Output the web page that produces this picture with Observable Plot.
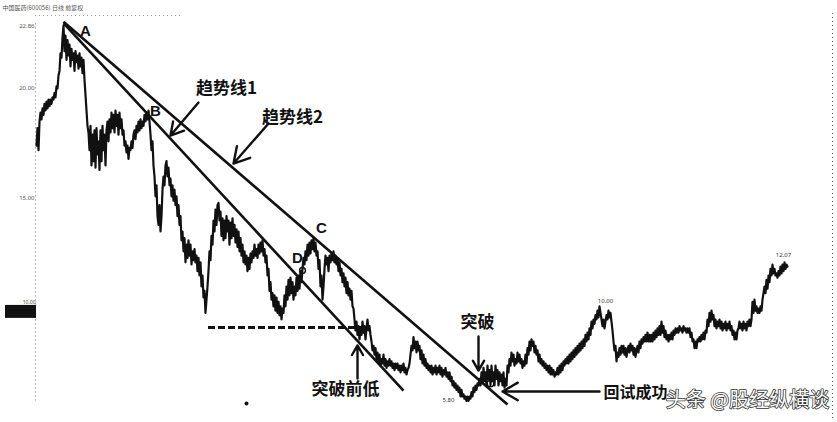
<!DOCTYPE html>
<html><head><meta charset="utf-8">
<script src="https://cdn.jsdelivr.net/npm/d3@7"></script>
<script src="https://cdn.jsdelivr.net/npm/@observablehq/plot@0.6"></script>
<style>body{margin:0;background:#fff;} #chart{width:837px;height:422px;overflow:hidden;}</style>
</head><body><div id="chart"></div>
<script>
// Daily closes, one per trading day
const close = [
17.4,18.2,17.2,18.5,18.9,18.6,19.1,18.8,19.3,19.0,19.4,19.1,19.5,19.2,19.5,19.3,19.6,19.5,19.8,19.6,20.1,20.0,20.6,20.8,21.6,21.4,22.3,22.86,
21.7,22.4,21.3,22.2,21.5,22.0,21.0,21.8,21.3,21.6,20.8,21.7,21.2,21.5,20.9,21.6,21.0,21.4,20.7,21.3,20.4,19.7,19.0,18.3,18.0,
17.2,18.3,16.5,17.9,16.7,18.1,16.4,18.2,17.0,17.6,16.3,18.1,16.7,18.3,17.2,17.9,16.5,18.1,
18.5,17.6,18.6,18.0,18.9,18.2,18.8,18.0,19.0,18.3,18.8,17.9,18.9,18.2,18.6,17.9,
18.1,17.4,17.6,17.1,17.4,16.8,17.3,17.2,17.6,17.3,
17.9,18.1,17.7,18.3,18.0,18.5,18.1,18.6,18.2,18.5,18.3,18.8,18.5,18.9,18.6,19.0,
18.5,17.9,17.2,17.6,16.5,16.0,15.1,15.6,14.2,13.8,14.7,13.5,
14.2,15.4,16.0,15.6,16.5,16.7,16.0,16.4,15.6,15.9,
15.1,15.6,14.9,15.4,14.7,15.1,14.2,14.7,13.8,14.2,
13.1,13.5,12.6,13.2,12.1,12.9,12.3,13.1,12.4,12.9,
12.0,12.6,12.2,12.7,12.1,12.4,11.7,12.3,11.5,12.1,
11.0,11.5,10.5,10.8,9.8,10.4,11.0,
11.7,12.6,12.2,13.3,12.9,14.0,13.5,14.5,13.8,14.7,14.8,14.0,
14.4,13.3,14.1,13.1,14.0,13.2,14.2,13.5,14.0,12.9,13.9,13.2,14.1,13.3,13.8,13.0,13.6,12.8,13.5,12.6,
13.2,12.4,12.9,12.1,12.6,12.0,12.4,11.7,12.3,11.8,12.5,12.1,12.6,
12.3,12.9,12.4,12.7,12.3,12.9,12.5,13.0,12.6,13.1,12.4,12.7,
12.1,12.4,11.5,11.8,10.8,11.2,10.4,10.7,10.1,10.6,9.9,10.5,9.8,10.3,9.7,10.1,9.5,10.0,9.8,
10.6,10.1,11.0,10.4,11.3,10.6,11.4,10.7,11.2,10.4,11.0,10.6,11.4,10.8,11.5,10.9,11.7,11.2,11.8,
12.3,12.0,12.6,12.2,12.9,12.4,13.0,12.5,13.1,12.7,13.2,12.6,13.0,12.4,
12.6,11.8,12.2,11.0,11.5,10.4,11.0,
11.8,12.4,12.0,12.3,11.7,12.4,12.1,12.5,12.2,12.6,12.1,12.4,12.0,
12.3,11.7,12.1,11.5,11.8,11.2,11.6,11.0,11.4,10.7,11.2,10.6,10.9,10.4,10.8,10.1,10.0,
9.5,9.0,9.4,8.8,9.2,8.6,9.1,8.8,9.4,8.9,9.2,8.6,9.1,9.5,9.0,9.2,8.8,8.5,8.1,8.3,7.9,8.2,7.7,
8.0,7.5,7.9,7.4,7.7,7.5,7.9,7.4,7.7,7.3,7.6,7.4,7.7,7.4,7.6,7.3,7.5,7.2,7.5,7.3,7.5,7.2,7.4,7.1,7.4,7.2,7.5,7.1,7.3,7.0,7.2,
7.3,7.5,7.9,8.3,8.1,8.7,8.2,8.5,8.0,8.5,
8.1,8.3,7.7,8.1,7.5,7.9,7.4,7.7,7.3,7.5,
7.2,7.4,7.1,7.4,7.0,7.3,7.1,7.4,7.0,7.3,
7.1,7.4,7.0,7.3,6.9,7.2,7.0,7.3,6.9,7.1,
6.8,7.1,6.7,6.9,6.5,6.7,6.4,6.6,6.3,6.5,
6.2,6.4,6.0,6.3,6.0,6.1,5.9,6.0,5.8,6.0,
5.8,6.0,5.9,6.2,6.0,6.4,6.2,6.5,6.3,6.6,
6.5,6.8,6.5,7.1,6.6,7.3,6.7,7.1,6.5,7.4,
6.8,7.2,6.5,7.4,6.7,7.1,6.5,7.4,6.8,7.2,
6.5,7.1,6.7,
7.0,6.5,7.1,6.4,6.8,6.5,7.4,7.1,7.7,7.4,
8.0,7.6,7.9,7.4,7.7,7.5,8.0,7.6,7.9,7.5,
7.7,7.3,7.6,7.4,7.9,7.5,8.2,7.9,8.5,8.1,
8.6,8.3,8.5,8.0,8.3,7.9,8.1,7.6,7.9,7.5,
7.7,7.4,7.6,7.3,7.5,7.2,7.4,7.1,7.4,7.0,
7.3,7.0,7.2,6.9,7.1,7.0,7.3,7.0,7.4,7.1,
7.5,7.2,7.6,7.4,7.7,7.5,7.8,7.5,7.9,7.6,8.0,7.7,8.1,
7.8,8.2,7.9,8.3,8.0,8.4,8.1,8.5,8.2,8.6,8.3,8.8,8.5,8.9,8.6,9.1,8.8,
9.4,9.1,9.5,9.3,9.7,9.5,9.9,9.6,10.1,9.8,
9.5,9.2,9.5,9.1,9.4,9.7,9.5,9.9,9.6,9.8,
9.4,9.0,8.5,8.1,8.3,7.6,8.0,7.8,
8.2,7.9,8.3,8.0,8.3,7.9,8.2,7.8,8.1,8.3,8.0,8.4,8.1,8.3,7.9,8.2,7.8,8.1,8.3,8.0,8.5,8.2,
8.6,8.4,8.7,8.5,8.8,8.5,8.9,8.5,8.8,8.5,
8.8,8.5,8.9,8.6,9.0,8.7,9.1,8.8,9.2,8.8,
9.4,8.9,9.2,8.7,9.0,8.6,8.8,8.5,8.8,8.6,
8.9,8.6,9.0,8.8,9.1,8.9,9.1,8.9,9.2,9.0,
9.1,8.9,9.2,9.0,9.1,8.9,9.1,8.9,9.1,8.7,
8.9,8.5,8.6,8.2,8.5,8.2,8.6,8.5,8.7,8.5,
8.8,8.6,8.9,8.6,9.0,8.9,9.5,9.2,9.8,9.4,
9.9,9.5,9.7,9.2,9.5,9.1,9.4,9.2,9.5,9.1,
9.4,9.0,9.3,9.1,9.4,9.0,9.3,9.1,9.4,9.0,
9.2,8.8,9.0,8.6,8.9,8.6,9.0,9.1,9.4,9.1,
9.3,9.0,9.4,9.1,9.3,9.0,9.4,9.2,9.5,9.2,
9.5,
10.3,9.8,10.4,9.9,10.1,9.8,10.0,9.8,10.1,9.9,
10.4,10.7,11.0,10.7,11.3,10.9,11.5,11.2,11.8,11.5,
12.0,11.6,11.8,11.5,11.6,11.4,11.7,11.5,11.9,11.6,
12.0,11.7,12.1,11.8,12.0,11.9
];

// Axis tick values and labels
const yTicks = [22.86, 20, 15];
const yTickLabels = ["22.86", "20.00", "15.00"];
const lastPrice = 10.0;
const lastPriceLabel = "10.00";

// Trend lines (start day/price, end day/price)
const trendNames = ["趋势线1", "趋势线2"];
const trendStartDay = [27, 27];
const trendStartPrice = [22.97, 23.03];
const trendEndDay = [367, 471];
const trendEndPrice = [6.27, 5.64];

// Previous low (dashed)
const prevLowPrice = 9.14;
const prevLowFrom = 172, prevLowTo = 329;

// Point letters
const pointNames = ["A", "B", "C", "D"];
const pointDay = [49, 119, 285, 261];
const pointPrice = [22.59, 18.95, 13.64, 12.27];

// Annotation texts (centres) and arrows
const noteText = ["趋势线1", "趋势线2", "突破前低", "突破", "回试成功"];
const noteDay = [190, 256, 309, 441, 599];
const notePrice = [20.0, 18.68, 6.32, 9.36, 6.18];
const noteSize = [17, 17, 17, 17, 16];
const arrowFromDay = [162, 232, 321, 442, 563];
const arrowFromPrice = [19.36, 18.41, 6.82, 8.73, 6.23];
const arrowToDay = [134, 197, 321, 442, 466];
const arrowToPrice = [17.86, 16.59, 8.32, 7.18, 6.23];

// Circled points
const circleDay = [266, 454];
const circlePrice = [11.73, 6.59];
const circleR = [6.5, 8];

// Small peak/trough labels
const peakText = ["10.00", "12.07", "5.80"];
const peakDay = [569, 747, 412];
const peakPrice = [10.36, 12.45, 5.82];

const title = "中国医药(600056) 日线 前复权";
const watermark = "头条 @股经纵横谈";

const data = close.map((c, i) => ({day: i, close: c}));
const idx = (a) => a.map((_, i) => i);
const cjk = "'Noto Sans CJK SC', sans-serif";

const chart = Plot.plot({
  width: 837, height: 422,
  marginLeft: 36, marginRight: 4, marginTop: 0, marginBottom: 4,
  x: {domain: [0, 797], axis: null},
  y: {domain: [5, 24], axis: null},
  style: {background: "#fff", overflow: "visible"},
  marks: [
    Plot.ruleX([-1], {y1: 5.8, y2: 22.95, stroke: "#777", strokeDasharray: "1,3"}),
    Plot.ruleX([796], {y1: 5.0, y2: 23.4, stroke: "#555", strokeDasharray: "1,3"}),
    Plot.ruleY([23.32], {x1: -1, x2: 145, stroke: "#999", strokeDasharray: "1,3"}),
    Plot.text(yTicks, {x: -2, y: d => d, text: (d, i) => yTickLabels[i], textAnchor: "end", fontSize: 6, fill: "#555"}),
    Plot.rect([lastPrice], {x1: -31, x2: 0, y1: 9.55, y2: 10.14, fill: "#111"}),
    Plot.text([lastPrice], {x: -1, y: 10.26, text: () => lastPriceLabel, textAnchor: "end", fontSize: 5, fill: "#444"}),
    Plot.text([title], {x: -34, y: 23.64, textAnchor: "start", fontSize: 6, fill: "#555", fontFamily: cjk}),
    Plot.ruleY([prevLowPrice], {x1: prevLowFrom, x2: prevLowTo, stroke: "#111", strokeWidth: 3, strokeDasharray: "7,3"}),
    Plot.line(data, {x: "day", y: "close", stroke: "#111", strokeWidth: 2.2, strokeLinejoin: "round"}),
    Plot.link(idx(trendNames), {
      x1: i => trendStartDay[i], y1: i => trendStartPrice[i],
      x2: i => trendEndDay[i], y2: i => trendEndPrice[i],
      stroke: "#111", strokeWidth: 2.6
    }),
    Plot.arrow(idx(arrowFromDay), {
      x1: i => arrowFromDay[i], y1: i => arrowFromPrice[i],
      x2: i => arrowToDay[i], y2: i => arrowToPrice[i],
      stroke: "#111", strokeWidth: 2.4, headLength: 11
    }),
    Plot.dot(idx(circleDay), {x: i => circleDay[i], y: i => circlePrice[i], r: i => circleR[i], stroke: "#111", strokeWidth: 1.4, fill: "none"}),
    Plot.text(idx(pointNames), {x: i => pointDay[i], y: i => pointPrice[i], text: i => pointNames[i],
      fontSize: 15, fontWeight: "bold", fontFamily: "'Liberation Sans', Arial, sans-serif", fill: "#111"}),
    Plot.text(idx(noteText).slice(0, 4), {x: i => noteDay[i], y: i => notePrice[i], text: i => noteText[i],
      fontSize: noteSize[0], fontWeight: "bold", fontFamily: cjk, fill: "#111"}),
    Plot.text([4], {x: i => noteDay[i], y: i => notePrice[i], text: i => noteText[i],
      fontSize: noteSize[4], fontWeight: "bold", fontFamily: cjk, fill: "#111"}),
    Plot.text(idx(peakText), {x: i => peakDay[i], y: i => peakPrice[i], text: i => peakText[i], fontSize: 6, fill: "#333"}),
    Plot.dot([5.68], {x: 210, y: d => d, r: 2, fill: "#111"}),
    Plot.text([watermark], {x: 711, y: 5.82, fontSize: 20, fontFamily: cjk, fill: "#fff", stroke: "#333", strokeWidth: 1.6, paintOrder: "stroke"})
  ]
});
document.getElementById("chart").append(chart);
</script>
</body></html>
